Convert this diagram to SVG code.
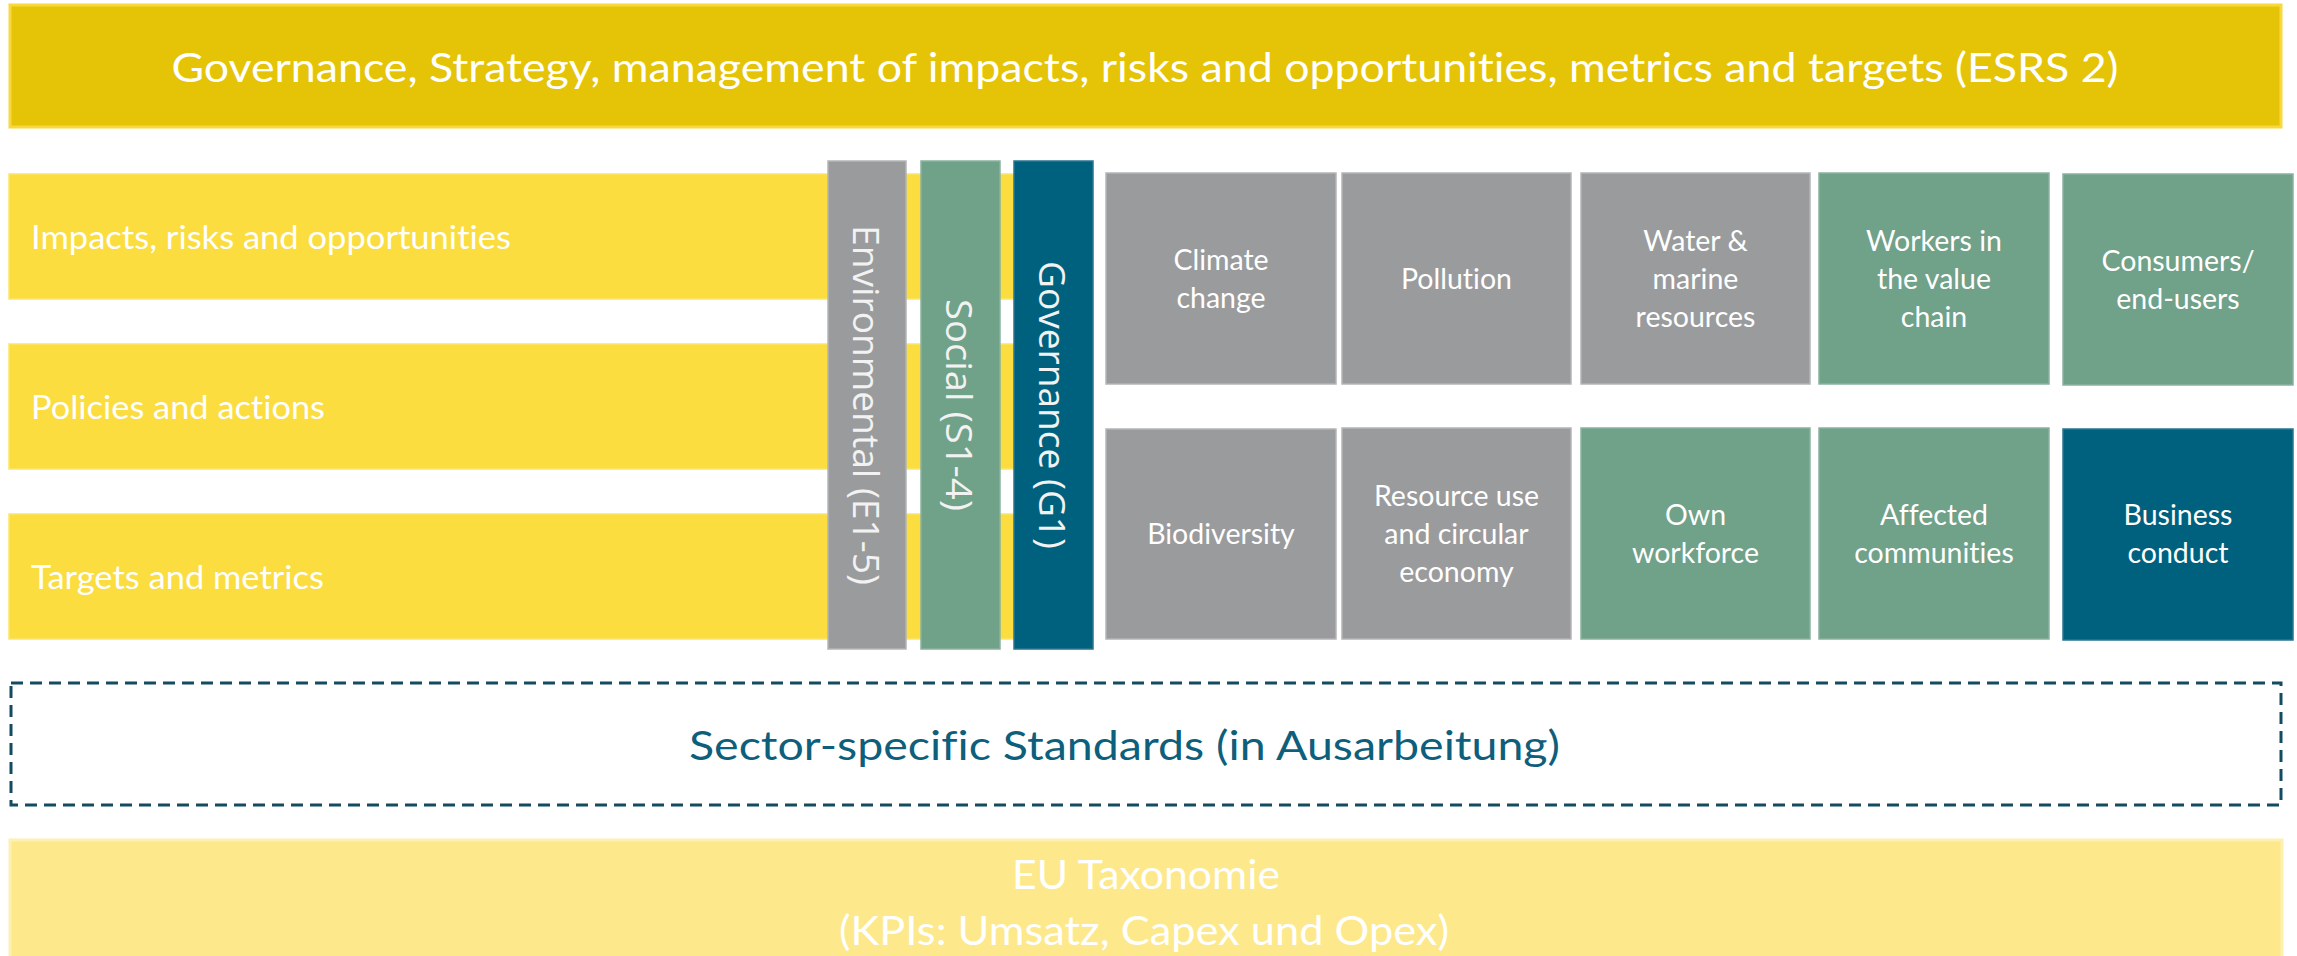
<svg xmlns="http://www.w3.org/2000/svg" width="2297" height="956" viewBox="0 0 2297 956">
<style>
text{font-variant-ligatures:none}
.t{font-family:Lato,"Liberation Sans",sans-serif;fill:#ffffff}
.box{font-size:28.5px;text-anchor:middle}
.vt{font-family:"Open Sans","Liberation Sans",sans-serif;font-size:37px;text-anchor:middle}
.grey{fill:#9a9b9d;stroke:#b4b5b7;stroke-width:1.5}
.green{fill:#70a189;stroke:#8bb39f;stroke-width:1.5}
.teal{fill:#00617e;stroke:#2a7690;stroke-width:1.5}
.row{fill:#fbdd3f;stroke:#fde56a;stroke-width:1.5}
.lbl{font-size:33.5px}
</style>
<rect width="2297" height="956" fill="#ffffff"/>

<g id="banner">
<rect x="10" y="5" width="2271" height="122" fill="#e5c407" stroke="#f8d83c" stroke-width="3"/>
<text class="t" x="1145" y="82" font-size="40" text-anchor="middle" textLength="1947" lengthAdjust="spacingAndGlyphs">Governance, Strategy, management of impacts, risks and opportunities, metrics and targets (ESRS 2)</text>
</g>

<g id="row-iro">
<rect class="row" x="9" y="174" width="1083" height="125"/>
<text class="t lbl" x="31" y="249" textLength="480" lengthAdjust="spacingAndGlyphs">Impacts, risks and opportunities</text>
</g>
<g id="row-policies">
<rect class="row" x="9" y="344" width="1083" height="125"/>
<text class="t lbl" x="31" y="419" textLength="294" lengthAdjust="spacingAndGlyphs">Policies and actions</text>
</g>
<g id="row-targets">
<rect class="row" x="9" y="514" width="1083" height="125"/>
<text class="t lbl" x="31" y="589" textLength="293" lengthAdjust="spacingAndGlyphs">Targets and metrics</text>
</g>

<g id="col-environmental">
<rect x="828" y="161" width="78" height="488" fill="#9a9b9d" stroke="#b4b5b7" stroke-width="1.5"/>
<text class="vt" fill="#f2f2f2" transform="translate(853,405) rotate(90)" textLength="360" lengthAdjust="spacingAndGlyphs">Environmental (E1-5)</text>
</g>
<g id="col-social">
<rect x="921" y="161" width="79" height="488" fill="#70a189" stroke="#8bb39f" stroke-width="1.5"/>
<text class="vt" fill="#f2f2f2" transform="translate(946,405) rotate(90)" textLength="212" lengthAdjust="spacingAndGlyphs">Social (S1-4)</text>
</g>
<g id="col-governance">
<rect x="1014" y="161" width="79" height="488" fill="#00617e" stroke="#2a7690" stroke-width="1.5"/>
<text class="vt" fill="#f2f2f2" transform="translate(1039,405) rotate(90)" textLength="288" lengthAdjust="spacingAndGlyphs">Governance (G1)</text>
</g>

<g id="climate-change">
<rect class="grey" x="1106" y="173" width="230" height="211"/>
<text class="t box" x="1221" y="269.5">Climate</text>
<text class="t box" x="1221" y="307.5">change</text>
</g>
<g id="pollution">
<rect class="grey" x="1342" y="173" width="229" height="211"/>
<text class="t box" x="1456.5" y="288.5">Pollution</text>
</g>
<g id="water">
<rect class="grey" x="1581" y="173" width="229" height="211"/>
<text class="t box" x="1695.5" y="250.5">Water &amp;</text>
<text class="t box" x="1695.5" y="288.5">marine</text>
<text class="t box" x="1695.5" y="326.5">resources</text>
</g>
<g id="workers-value-chain">
<rect class="green" x="1819" y="173" width="230" height="211"/>
<text class="t box" x="1934" y="250.5">Workers in</text>
<text class="t box" x="1934" y="288.5">the value</text>
<text class="t box" x="1934" y="326.5">chain</text>
</g>
<g id="consumers">
<rect class="green" x="2063" y="174" width="230" height="211"/>
<text class="t box" x="2178" y="270.5">Consumers/</text>
<text class="t box" x="2178" y="308.5">end-users</text>
</g>

<g id="biodiversity">
<rect class="grey" x="1106" y="429" width="230" height="210"/>
<text class="t box" x="1221" y="544">Biodiversity</text>
</g>
<g id="resource-use">
<rect class="grey" x="1342" y="428" width="229" height="211"/>
<text class="t box" x="1456.5" y="506">Resource use</text>
<text class="t box" x="1456.5" y="544">and circular</text>
<text class="t box" x="1456.5" y="582">economy</text>
</g>
<g id="own-workforce">
<rect class="green" x="1581" y="428" width="229" height="211"/>
<text class="t box" x="1695.5" y="525">Own</text>
<text class="t box" x="1695.5" y="563">workforce</text>
</g>
<g id="affected-communities">
<rect class="green" x="1819" y="428" width="230" height="211"/>
<text class="t box" x="1934" y="525">Affected</text>
<text class="t box" x="1934" y="563">communities</text>
</g>
<g id="business-conduct">
<rect class="teal" x="2063" y="429" width="230" height="211"/>
<text class="t box" x="2178" y="525">Business</text>
<text class="t box" x="2178" y="563">conduct</text>
</g>

<g id="sector-specific">
<rect x="11" y="683" width="2270" height="122" fill="none" stroke="#134c60" stroke-width="3" stroke-dasharray="12 7"/>
<text x="689" y="760" font-family="Lato,'Liberation Sans',sans-serif" font-size="41.5" fill="#0e5f7c" textLength="871" lengthAdjust="spacingAndGlyphs">Sector-specific Standards (in Ausarbeitung)</text>
</g>

<g id="eu-taxonomie">
<rect x="10" y="840" width="2272" height="120" fill="#fde98b" stroke="#fdf0b0" stroke-width="3"/>
<text class="t" x="1146" y="888.5" font-size="41" text-anchor="middle" fill="#fffae0" textLength="268" lengthAdjust="spacingAndGlyphs">EU Taxonomie</text>
<text class="t" x="1144" y="945" font-size="41" text-anchor="middle" fill="#fffae0" textLength="610" lengthAdjust="spacingAndGlyphs">(KPIs: Umsatz, Capex und Opex)</text>
</g>

<g id="connectors"/>
</svg>
